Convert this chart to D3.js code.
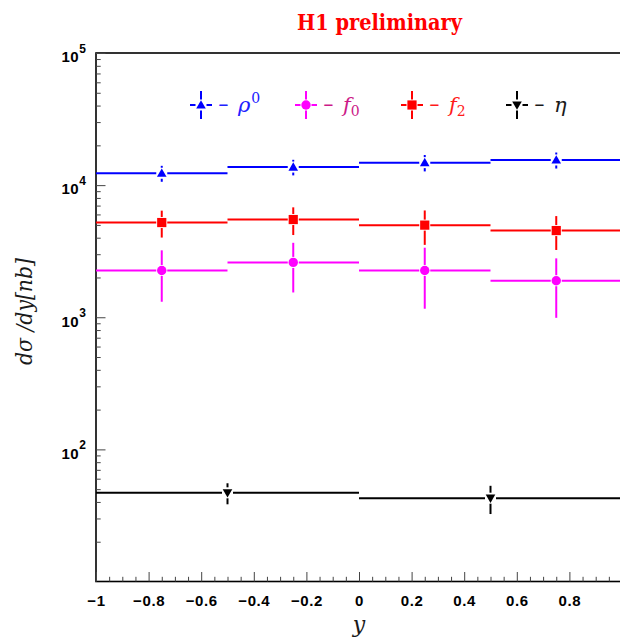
<!DOCTYPE html>
<html>
<head>
<meta charset="utf-8">
<script src="https://cdn.jsdelivr.net/npm/d3@7"></script>
<style>
  html, body { margin: 0; padding: 0; background: #fff; }
  svg { display: block; }
  .sans { font-family: "Liberation Sans", Arial, sans-serif; }
  .serif { font-family: "DejaVu Serif", serif; }
</style>
</head>
<body>
<script>
// dσ/dy per rapidity bin for the four mesons
const binEdges = [-1, -0.5, 0, 0.5, 1];
const rhoValues = [12300, 13700, 14800, 15500];
const rhoErrors = [1700, 1850, 2100, 2150];
const f0Values = [2260, 2600, 2260, 1890];
const f0Errors = [950, 1060, 1100, 900];
const f2Values = [5210, 5490, 4980, 4530];
const f2Errors = [1200, 1300, 1450, 1300];
const etaBinEdges = [-1, 0, 1];
const etaValues = [46.9, 42.7];
const etaErrors = [8.5, 10.3];

const xTickValues = [-1, -0.8, -0.6, -0.4, -0.2, 0, 0.2, 0.4, 0.6, 0.8];
const xTickLabels = ["\u22121", "\u22120.8", "\u22120.6", "\u22120.4", "\u22120.2", "0", "0.2", "0.4", "0.6", "0.8"];
const yDecadeExponents = ["2", "3", "4", "5"];

const seriesSymbols = ["\u03C1", "f", "f", "\u03B7"];
const seriesScripts = ["0", "0", "2", ""];

const W = 620, H = 640;
const svg = d3.select("body").append("svg").attr("width", W).attr("height", H);

const x = d3.scaleLinear().domain([-1, 1]).range([96, 622]);
const y = d3.scaleLog().domain([10, 1e5]).range([581.5, 53]);

// title
svg.append("text").attr("class", "serif")
  .attr("x", 297).attr("y", 30)
  .attr("textLength", 165).attr("lengthAdjust", "spacingAndGlyphs")
  .style("font-weight", "bold")
  .style("font-size", "23px")
  .attr("fill", "#ff0000")
  .text("H1 preliminary");

// frame
svg.append("rect")
  .attr("x", x(-1)).attr("y", y(1e5))
  .attr("width", x(1) - x(-1)).attr("height", y(10) - y(1e5))
  .attr("fill", "none").attr("stroke", "#000").attr("stroke-width", 1.6);

// x axis: major and minor ticks, drawn inward
const xMinor = d3.range(-1, 1.0001, 0.05).filter(v => Math.abs(Math.round(v * 5) - v * 5) > 1e-6);
const xAxisMinor = d3.axisBottom(x).tickValues(xMinor).tickSizeInner(-4.7).tickSizeOuter(0).tickFormat("");
const gxm = svg.append("g").attr("transform", `translate(0,${y(10)})`).call(xAxisMinor);
gxm.select(".domain").remove();
const xAxis = d3.axisBottom(x).tickValues(xTickValues).tickSizeInner(-9.5).tickSizeOuter(0)
  .tickPadding(14).tickFormat((d, i) => xTickLabels[i]);
const gx = svg.append("g").attr("transform", `translate(0,${y(10)})`).call(xAxis);
gx.attr("font-family", null).attr("font-size", null);
gx.select(".domain").remove();
gx.selectAll(".tick line").attr("stroke", "#444");
gxm.selectAll(".tick line").attr("stroke", "#444");
gx.selectAll(".tick text").attr("class", "sans")
  .style("font-weight", "bold").style("font-size", "15px")
  .style("letter-spacing", "0.6px").attr("fill", "#000");

// y axis: decades with minor ticks 2..9
const yMinor = [];
for (let k = 1; k < 5; k++) for (let m = 2; m <= 9; m++) yMinor.push(m * Math.pow(10, k));
const yAxisMinor = d3.axisLeft(y).tickValues(yMinor).tickSizeInner(-4.7).tickSizeOuter(0).tickFormat("");
const gym = svg.append("g").attr("transform", `translate(${x(-1)},0)`).call(yAxisMinor);
gym.select(".domain").remove();
gym.selectAll(".tick line").attr("stroke", "#444");
const yAxis = d3.axisLeft(y).tickValues(yDecadeExponents.map(e => Math.pow(10, +e)))
  .tickSizeInner(-9.5).tickSizeOuter(0).tickPadding(10).tickFormat("");
const gy = svg.append("g").attr("transform", `translate(${x(-1)},0)`).call(yAxis);
gy.attr("font-family", null).attr("font-size", null);
gy.select(".domain").remove();
gy.selectAll(".tick line").attr("stroke", "#444");
gy.selectAll(".tick text").each(function(d, i) {
  const t = d3.select(this).attr("class", "sans")
    .style("font-weight", "bold").attr("fill", "#000")
    .attr("dy", "0.55em");
  t.append("tspan").style("font-size", "15px").style("letter-spacing", "0.6px").text("10");
  t.append("tspan").style("font-size", "12px").attr("dy", "-0.8em").text(yDecadeExponents[i]);
});

// axis titles
svg.append("text").attr("class", "serif")
  .attr("transform", "translate(32,365) rotate(-90)")
  .attr("textLength", 107).attr("lengthAdjust", "spacingAndGlyphs")
  .style("font-style", "italic").style("font-size", "23px")
  .attr("fill", "#1a1a1a")
  .text("d\u03C3 /dy[nb]");
svg.append("text").attr("class", "serif")
  .attr("x", 359).attr("y", 632)
  .attr("text-anchor", "middle")
  .style("font-style", "italic").style("font-size", "22px")
  .attr("fill", "#1a1a1a")
  .text("y");

// marker shapes
const markerPath = {
  up: "M0,-4.8L4.8,3.6L-4.8,3.6Z",
  down: "M0,4.8L4.8,-3.6L-4.8,-3.6Z",
  circle: d3.symbol(d3.symbolCircle, Math.PI * 4.7 * 4.7)(),
  square: "M-4.6,-4.6H4.6V4.6H-4.6Z"
};

function bins(edges, values, errors) {
  return values.map((v, i) => ({ lo: edges[i], hi: edges[i + 1], v, e: errors[i] }));
}

const series = [
  { data: bins(binEdges, rhoValues, rhoErrors), color: "#0000ff", text: "#2020ff", marker: "up" },
  { data: bins(binEdges, f0Values, f0Errors), color: "#ff00ff", text: "#cc1a88", marker: "circle" },
  { data: bins(binEdges, f2Values, f2Errors), color: "#ff0000", text: "#ff1a1a", marker: "square" },
  { data: bins(etaBinEdges, etaValues, etaErrors), color: "#000000", text: "#1a1a1a", marker: "down" }
];

const gap = 5.5;
series.forEach(s => {
  const g = svg.append("g");
  s.data.forEach(b => {
    const cx = x((b.lo + b.hi) / 2), cy = y(b.v);
    const x0 = x(b.lo), x1 = x(b.hi);
    const yt = y(b.v + b.e), yb = y(b.v - b.e);
    const segs = [
      [x0, cy, cx - gap, cy], [cx + gap, cy, x1, cy],
      [cx, yt, cx, cy - gap], [cx, cy + gap, cx, yb]
    ];
    segs.forEach(sg => g.append("line")
      .attr("x1", sg[0]).attr("y1", sg[1]).attr("x2", sg[2]).attr("y2", sg[3])
      .attr("stroke", s.color).attr("stroke-width", 2));
    g.append("path").attr("d", markerPath[s.marker])
      .attr("transform", `translate(${cx},${cy})`).attr("fill", s.color);
  });
});

// legend
const legendX = [201, 306, 412, 517];
const legendY = 105;
series.forEach((s, i) => {
  const lx = legendX[i];
  const g = svg.append("g");
  const segs = [
    [lx - 11, legendY, lx - gap, legendY], [lx + gap, legendY, lx + 11, legendY],
    [lx, legendY - 14, lx, legendY - gap], [lx, legendY + gap, lx, legendY + 14]
  ];
  segs.forEach(sg => g.append("line")
    .attr("x1", sg[0]).attr("y1", sg[1]).attr("x2", sg[2]).attr("y2", sg[3])
    .attr("stroke", s.color).attr("stroke-width", 2));
  g.append("path").attr("d", markerPath[s.marker])
    .attr("transform", `translate(${lx},${legendY})`).attr("fill", s.color);
  g.append("text").attr("class", "serif")
    .attr("x", lx + 17).attr("y", legendY + 7)
    .attr("textLength", 11).attr("lengthAdjust", "spacingAndGlyphs")
    .style("font-size", "21px").attr("fill", s.text)
    .text("\u2212");
  const t = g.append("text").attr("class", "serif")
    .attr("x", lx + 37).attr("y", legendY + 7)
    .style("font-size", "21px").attr("fill", s.text);
  t.append("tspan").style("font-style", "italic").text(seriesSymbols[i]);
  if (seriesScripts[i]) {
    const sup = i === 0;
    t.append("tspan").style("font-size", "14px")
      .attr("dx", sup ? 1 : 0)
      .attr("dy", sup ? -9 : 4)
      .text(seriesScripts[i]);
  }
});
</script>
</body>
</html>
